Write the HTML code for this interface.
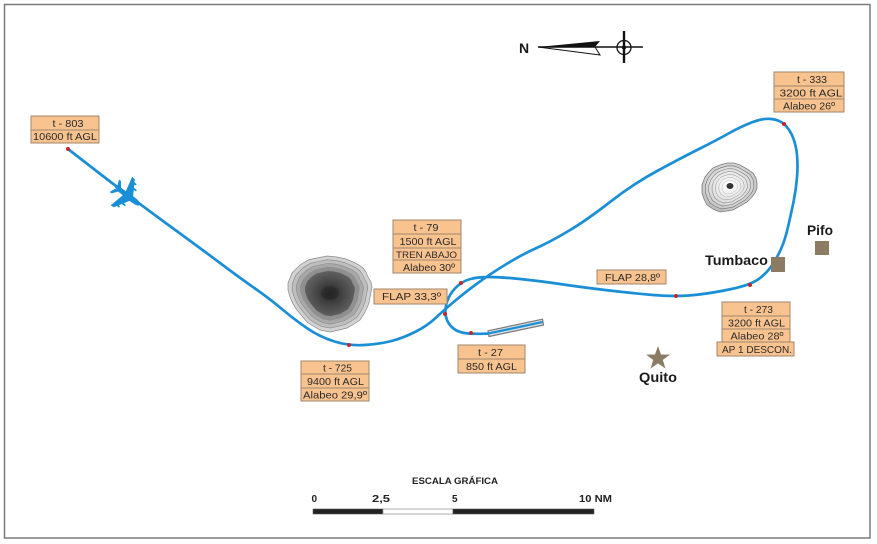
<!DOCTYPE html>
<html>
<head>
<meta charset="utf-8">
<style>
html,body{margin:0;padding:0;background:#fff;}
svg{display:block;}
text{font-family:"Liberation Sans",Arial,sans-serif;}
.bx{fill:#f9c38f;stroke:#a0856b;stroke-width:1;}
.bt{font-size:10.5px;fill:#2a2a2a;text-anchor:middle;}
.lb{font-size:14px;font-weight:bold;fill:#1a1a1a;}
</style>
</head>
<body>
<svg width="877" height="544" viewBox="0 0 877 544" xmlns="http://www.w3.org/2000/svg">
<defs>
<radialGradient id="g1" cx="0.5" cy="0.5" r="0.5">
<stop offset="0" stop-color="#262626"/>
<stop offset="0.6" stop-color="#4a4a4a"/>
<stop offset="1" stop-color="#606060"/>
</radialGradient>
<radialGradient id="g2" cx="0.5" cy="0.45" r="0.55">
<stop offset="0" stop-color="#ffffff"/>
<stop offset="0.6" stop-color="#e2e2e2"/>
<stop offset="1" stop-color="#bdbdbd"/>
</radialGradient>
<polygon id="t1" points="300,265 308,260 317,258 327,256 337,257 346,259 353,262 359,265 363,268 366,272 368,277 371,282 372,287 371,292 370,297 369,303 367,308 364,314 360,320 354,324 347,328 339,330 330,332 325,331 320,330 313,326 307,322 302,316 297,310 293,304 290,297 288,290 288,283 290,278 292,273 296,269"/>
<polygon id="t2" points="705,177 709,172 713,168 720,165 727,163 734,163 740,165 747,169 753,173 756,178 757,183 757,188 755,193 751,198 747,202 740,206 733,210 727,211 720,212 713,209 707,205 704,199 702,193 702,189 702,185"/>
</defs>

<!-- frame -->
<rect x="4.5" y="4.5" width="865.5" height="533.5" fill="none" stroke="#7a7a7a" stroke-width="1.5"/>

<!-- compass -->
<text x="519" y="53" class="lb" style="font-size:14px">N</text>
<polygon points="538,47 600,41 595,47" fill="#111"/>
<polygon points="538,47 595,47 600,55" fill="#fff" stroke="#111" stroke-width="1"/>
<line x1="538" y1="47" x2="643" y2="47" stroke="#111" stroke-width="1.6"/>
<circle cx="624" cy="47.5" r="7" fill="none" stroke="#111" stroke-width="1.3"/>
<circle cx="624" cy="47.5" r="2.2" fill="#111"/>
<line x1="624" y1="31" x2="624" y2="63" stroke="#111" stroke-width="2.4"/>

<!-- terrain 1 -->
<g stroke="#8a8a8a" stroke-width="0.7">
<use href="#t1" fill="#d2d2d2"/>
<use href="#t1" fill="#bebebe" transform="translate(330,293) scale(0.9) translate(-330,-293)"/>
<use href="#t1" fill="#a8a8a8" transform="translate(330,293) scale(0.8) translate(-330,-293)"/>
<use href="#t1" fill="#909090" transform="translate(330,293) scale(0.7) translate(-330,-293)"/>
<use href="#t1" fill="url(#g1)" transform="translate(330,293) scale(0.6) translate(-330,-293)"/>
</g>
<ellipse cx="330" cy="293" rx="9" ry="7" fill="#1c1c1c" opacity="0.35"/>

<!-- terrain 2 -->
<g fill="none" stroke="#7d7d7d" stroke-width="0.8">
<use href="#t2" fill="url(#g2)"/>
<use href="#t2" transform="translate(730,187) scale(0.88) translate(-730,-187)"/>
<use href="#t2" transform="translate(730,187) scale(0.76) translate(-730,-187)"/>
<use href="#t2" transform="translate(730,187) scale(0.64) translate(-730,-187)"/>
<use href="#t2" transform="translate(730,187) scale(0.52) translate(-730,-187)"/>
<use href="#t2" transform="translate(730,187) scale(0.40) translate(-730,-187)"/>
<use href="#t2" transform="translate(730,187) scale(0.28) translate(-730,-187)"/>
</g>
<ellipse cx="730" cy="186" rx="3.5" ry="3" fill="#333"/>

<!-- runway -->
<polygon points="488,330.8 542.5,319.2 543.5,325 489,336.5" fill="#d9dee5" stroke="#7a7a7a" stroke-width="1.2"/>

<!-- trajectory -->
<path fill="none" stroke="#1a8fd6" stroke-width="2.7" stroke-linejoin="round" stroke-linecap="round"
d="M68,149 L99,173 Q130,197 165,222.5 Q200,248 220,263 Q240,278 255,288.5 Q270,299 282.5,309.5 Q295,320 307.5,328.5 Q320,337 334.5,341.5 Q349,346 364.5,345 Q380,344 391.5,341 Q403,338 415,332 Q427,326 435,318.5 Q443,311 453,302.5 Q463,294 476.5,284 Q490,274 506.5,264 Q523,254 536.5,248 Q550,242 568.5,231 Q587,220 610,202 Q633,184 658,170.5 Q683,157 700,148.5 Q717,140 728.5,133.5 Q740,127 751.5,122.5 Q763,118 771.5,119 Q780,120 785,125 Q790,130 793,137.5 Q796,145 797,155 Q798,165 797,177.5 Q796,190 793.5,202 Q791,214 788,227 Q785,240 781,249 Q777,258 771.5,266 Q766,274 758,279.5 Q750,285 731.5,289 Q713,293 694.5,295 Q676,297 653,295 Q630,293 605,290 Q580,287 560,284 Q540,281 520,279 Q500,277 489,277 Q478,277 470.5,279 Q463,281 457.5,286 Q452,291 449,297 Q446,303 445.5,309 Q445,315 447,320 Q449,325 453.5,328.5 Q458,332 464.5,333 Q471,334 480,333.8 L488,333.6"/>
<line x1="488" y1="333.6" x2="541.5" y2="322.2" stroke="#1a8fd6" stroke-width="2.2" stroke-linecap="round"/>

<!-- plane -->
<g transform="translate(128,196) rotate(37) scale(0.92)" fill="#1a8fd6">
<path d="M16,0 C16,-2.6 11,-3.2 6,-3.2 L-12,-2.6 L-17,-1 L-17,1 L-12,2.6 L6,3.2 C11,3.2 16,2.6 16,0 Z"/>
<path d="M5,-2.5 L-5,-19 L-9,-19.5 L-5,-2.5 Z"/>
<path d="M5,2.5 L-5,19 L-9,19.5 L-5,2.5 Z"/>
<path d="M-11,-2 L-16,-8.5 L-18.5,-8.5 L-16,-2 Z"/>
<path d="M-11,2 L-16,8.5 L-18.5,8.5 L-16,2 Z"/>
<rect x="-1" y="-11" width="5" height="2" rx="1"/>
<rect x="-5" y="-16" width="5" height="2" rx="1"/>
<rect x="-1" y="9" width="5" height="2" rx="1"/>
<rect x="-5" y="14" width="5" height="2" rx="1"/>
</g>

<!-- red dots -->
<g fill="#c0282d">
<circle cx="68" cy="149" r="2"/>
<circle cx="349" cy="345" r="2"/>
<circle cx="461" cy="283" r="2"/>
<circle cx="445" cy="314" r="2"/>
<circle cx="471" cy="333" r="2"/>
<circle cx="784" cy="124" r="2"/>
<circle cx="750" cy="285" r="2"/>
<circle cx="676" cy="296" r="2"/>
</g>

<!-- towns -->
<rect x="771" y="257" width="14" height="15" fill="#8b7b63"/>
<rect x="815" y="241" width="14" height="14" fill="#8b7b63"/>
<polygon points="658,346 661,354.5 670,354.6 662.8,359.9 665.4,368.5 658,363.4 650.6,368.5 653.2,359.9 646,354.6 655,354.5" fill="#8b7b63"/>
<text x="705" y="265" class="lb" textLength="63" lengthAdjust="spacingAndGlyphs">Tumbaco</text>
<text x="807" y="235" class="lb" textLength="26" lengthAdjust="spacingAndGlyphs">Pifo</text>
<text x="639" y="382" class="lb" textLength="38" lengthAdjust="spacingAndGlyphs">Quito</text>

<!-- t-803 -->
<rect class="bx" x="31" y="116" width="68" height="14"/>
<rect class="bx" x="31" y="130" width="68" height="13"/>
<text class="bt" x="68" y="127" textLength="31" lengthAdjust="spacingAndGlyphs">t - 803</text>
<text class="bt" x="65" y="140" textLength="64" lengthAdjust="spacingAndGlyphs">10600 ft AGL</text>

<!-- t-79 -->
<rect class="bx" x="393" y="220" width="68" height="14"/>
<rect class="bx" x="393" y="234" width="68" height="14"/>
<rect class="bx" x="393" y="248" width="68" height="12"/>
<rect class="bx" x="393" y="260" width="68" height="13"/>
<text class="bt" x="426" y="231" textLength="25" lengthAdjust="spacingAndGlyphs">t - 79</text>
<text class="bt" x="428" y="245" textLength="57" lengthAdjust="spacingAndGlyphs">1500 ft AGL</text>
<text class="bt" x="426.5" y="258" textLength="61" lengthAdjust="spacingAndGlyphs" style="font-size:9.5px">TREN ABAJO</text>
<text class="bt" x="429" y="271" textLength="52" lengthAdjust="spacingAndGlyphs">Alabeo 30º</text>

<!-- FLAP 33,3 -->
<rect class="bx" x="374" y="289" width="73" height="15"/>
<text class="bt" x="411.5" y="300" textLength="59" lengthAdjust="spacingAndGlyphs">FLAP 33,3º</text>

<!-- t-725 -->
<rect class="bx" x="301" y="361" width="68" height="13"/>
<rect class="bx" x="301" y="374" width="68" height="14"/>
<rect class="bx" x="301" y="388" width="68" height="13"/>
<text class="bt" x="337.5" y="371.5" textLength="29" lengthAdjust="spacingAndGlyphs">t - 725</text>
<text class="bt" x="335.5" y="385" textLength="57" lengthAdjust="spacingAndGlyphs">9400 ft AGL</text>
<text class="bt" x="335" y="398.5" textLength="64" lengthAdjust="spacingAndGlyphs">Alabeo 29,9º</text>

<!-- t-27 -->
<rect class="bx" x="458" y="345" width="67" height="14"/>
<rect class="bx" x="458" y="359" width="67" height="14"/>
<text class="bt" x="490.5" y="356" textLength="25" lengthAdjust="spacingAndGlyphs">t - 27</text>
<text class="bt" x="491.5" y="370" textLength="51" lengthAdjust="spacingAndGlyphs">850 ft AGL</text>

<!-- t-333 -->
<rect class="bx" x="774" y="72" width="70" height="14"/>
<rect class="bx" x="774" y="86" width="70" height="13"/>
<rect class="bx" x="774" y="99" width="70" height="13"/>
<text class="bt" x="812" y="83" textLength="30" lengthAdjust="spacingAndGlyphs">t - 333</text>
<text class="bt" x="811" y="96.5" textLength="63" lengthAdjust="spacingAndGlyphs">3200 ft AGL</text>
<text class="bt" x="809" y="109.5" textLength="52" lengthAdjust="spacingAndGlyphs">Alabeo 26º</text>

<!-- FLAP 28,8 -->
<rect class="bx" x="597" y="270" width="69" height="14"/>
<text class="bt" x="632.5" y="281" textLength="55" lengthAdjust="spacingAndGlyphs">FLAP 28,8º</text>

<!-- t-273 -->
<rect class="bx" x="722" y="302" width="68" height="14"/>
<rect class="bx" x="722" y="316" width="68" height="13"/>
<rect class="bx" x="722" y="329" width="68" height="13"/>
<rect class="bx" x="717" y="342" width="77" height="14"/>
<text class="bt" x="758.5" y="313" textLength="29" lengthAdjust="spacingAndGlyphs">t - 273</text>
<text class="bt" x="756.5" y="326.5" textLength="57" lengthAdjust="spacingAndGlyphs">3200 ft AGL</text>
<text class="bt" x="757" y="339.5" textLength="53" lengthAdjust="spacingAndGlyphs">Alabeo 28º</text>
<text class="bt" x="757" y="353" textLength="70" lengthAdjust="spacingAndGlyphs">AP 1 DESCON.</text>

<!-- scale -->
<text x="455" y="484" text-anchor="middle" style="font-size:9.4px;font-weight:bold;fill:#222" textLength="86" lengthAdjust="spacingAndGlyphs">ESCALA GRÁFICA</text>
<g style="font-size:10px;font-weight:bold;fill:#222">
<text x="311.5" y="502">0</text>
<text x="372" y="502" textLength="18" lengthAdjust="spacingAndGlyphs">2,5</text>
<text x="452" y="502">5</text>
<text x="579" y="502" textLength="33" lengthAdjust="spacingAndGlyphs">10 NM</text>
</g>
<rect x="313" y="509" width="70" height="5" fill="#222" stroke="#555" stroke-width="0.6"/>
<rect x="383" y="509" width="70" height="5" fill="#fff" stroke="#999" stroke-width="0.8"/>
<rect x="453" y="509" width="141" height="5" fill="#222" stroke="#555" stroke-width="0.6"/>
</svg>
</body>
</html>
